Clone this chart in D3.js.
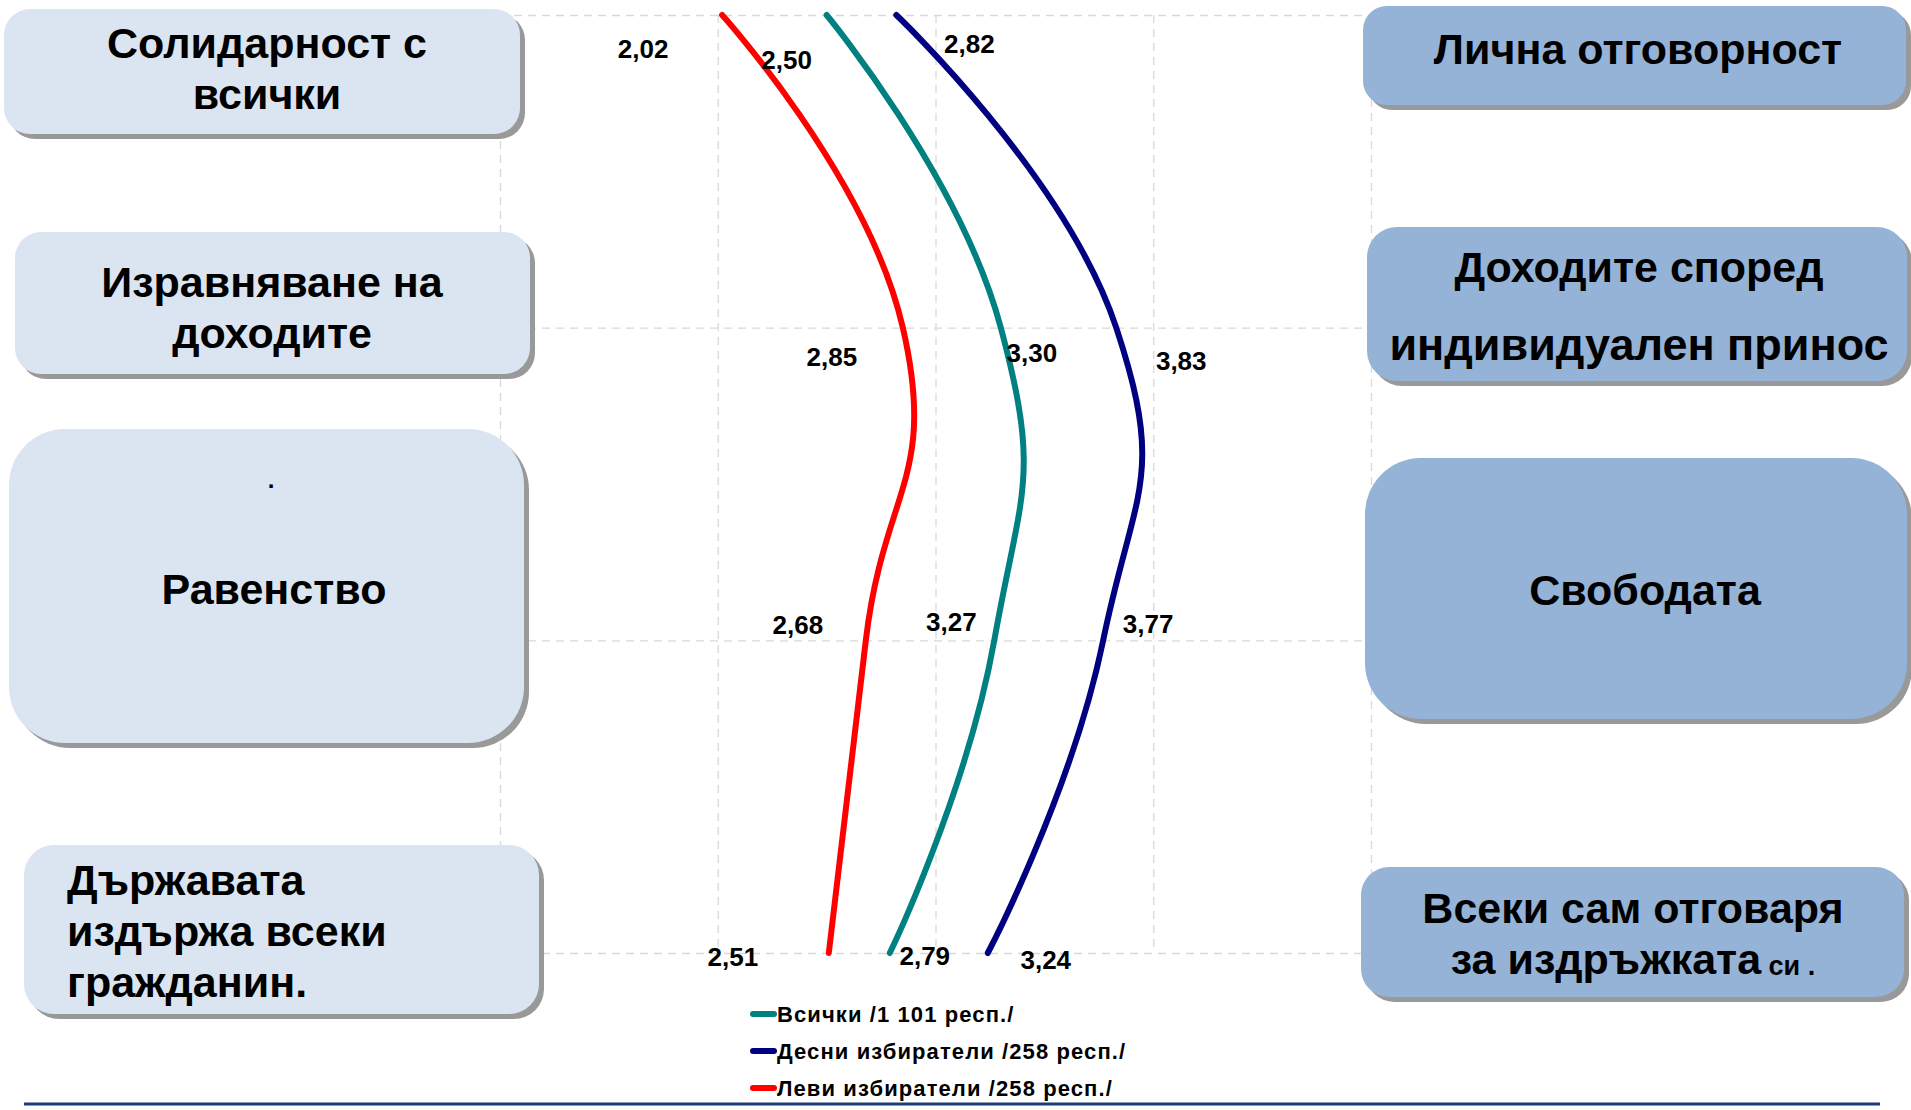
<!DOCTYPE html>
<html>
<head>
<meta charset="utf-8">
<script src="https://cdn.jsdelivr.net/npm/d3@7"></script>
<style>
  html, body { margin: 0; padding: 0; background: #ffffff; }
  svg { display: block; font-family: "Liberation Sans", Arial, sans-serif; }
</style>
</head>
<body>
<svg id="chart" width="1911" height="1110"></svg>
<script>
// ---------- data ----------
const categories = ["solidarity", "income", "equality", "state"];
const leftLabels = [
  ["Солидарност с", "всички"],
  ["Изравняване на", "доходите"],
  ["Равенство"],
  ["Държавата", "издържа всеки", "гражданин."]
];
const rightLabels = [
  ["Лична отговорност"],
  ["Доходите според", "индивидуален принос"],
  ["Свободата"],
  ["Всеки сам отговаря", "за издръжката"]
];
const seriesNames = ["Всички /1 101 респ./", "Десни избиратели /258 респ./", "Леви избиратели /258 респ./"];
const valuesAll   = [2.50, 3.30, 3.27, 2.79];
const valuesRight = [2.82, 3.83, 3.77, 3.24];
const valuesLeft  = [2.02, 2.85, 2.68, 2.51];
const xTicks = [1, 2, 3, 4, 5];

// ---------- layout / style ----------
const svg = d3.select("#chart");
const plot = { left: 500, right: 1371, top: 15, bottom: 953 };
const x = d3.scaleLinear().domain([1, 5]).range([plot.left, plot.right]);
const y = d3.scalePoint().domain(categories).range([plot.top, plot.bottom]);
const fmt = v => d3.format(".2f")(v).replace(".", ",");

const series = [
  { name: seriesNames[0], values: valuesAll,   color: "#008080",
    offsets: [[-40, 45], [31, 25], [-43, -18], [35, 3]] },
  { name: seriesNames[1], values: valuesRight, color: "#000080",
    offsets: [[73, 29], [65, 33], [45, -16], [58, 7]] },
  { name: seriesNames[2], values: valuesLeft,  color: "#ff0000",
    offsets: [[-79, 34], [-71, 29], [-68, -15], [-96, 4]] }
];

// gridlines
const gx = svg.append("g").attr("transform", `translate(0,${plot.top})`)
  .call(d3.axisTop(x).tickValues(xTicks).tickSize(-(plot.bottom - plot.top)).tickFormat(""));
const gy = svg.append("g").attr("transform", `translate(${plot.left},0)`)
  .call(d3.axisLeft(y).tickSize(-(plot.right - plot.left)).tickFormat(""));
[gx, gy].forEach(g => {
  g.select(".domain").remove();
  g.selectAll(".tick line").attr("stroke", "#d9d9d9").attr("stroke-width", 1.3).attr("stroke-dasharray", "8,6");
});

// lines
const line = d3.line()
  .x(d => x(d.v)).y(d => y(d.c))
  .curve(d3.curveCardinal.tension(-0.45));
series.slice().reverse().forEach(s => {
  const pts = s.values.map((v, i) => ({ v, c: categories[i] }));
  svg.append("path").datum(pts)
    .attr("d", line)
    .attr("fill", "none")
    .attr("stroke", s.color)
    .attr("stroke-width", 6)
    .attr("stroke-linecap", "round")
    .attr("stroke-linejoin", "round");
});

// data labels
series.forEach(s => {
  svg.append("g").selectAll("text").data(s.values).join("text")
    .attr("x", (v, i) => x(v) + s.offsets[i][0])
    .attr("y", (v, i) => y(categories[i]) + s.offsets[i][1])
    .attr("text-anchor", "middle")
    .attr("dominant-baseline", "central")
    .attr("font-size", 26)
    .attr("font-weight", "bold")
    .attr("fill", "#000")
    .text(v => fmt(v));
});

// boxes
const leftBoxes = [
  { x: 4,  y: 9,   w: 516, h: 125, r: 26, lines: leftLabels[0], cy: [43, 94], anchor: "middle", tx: 267 },
  { x: 15, y: 232, w: 515, h: 142, r: 26, lines: leftLabels[1], cy: [282, 333], anchor: "middle", tx: 272 },
  { x: 9,  y: 429, w: 515, h: 314, r: 56, lines: leftLabels[2], cy: [589], anchor: "middle", tx: 274 },
  { x: 24, y: 845, w: 515, h: 169, r: 30, lines: leftLabels[3], cy: [880, 931, 982], anchor: "start", tx: 67 }
];
const rightBoxes = [
  { x: 1363, y: 6,   w: 543, h: 99,  r: 24, lines: rightLabels[0], cy: [49], tx: 1638 },
  { x: 1367, y: 227, w: 540, h: 154, r: 30, lines: rightLabels[1], cy: [267, 344], tx: 1639, fs: [43, 45] },
  { x: 1365, y: 458, w: 542, h: 261, r: 56, lines: rightLabels[2], cy: [590], tx: 1645 },
  { x: 1361, y: 867, w: 543, h: 130, r: 28, lines: rightLabels[3], cy: [908, 959], tx: 1633 }
];

function drawBox(b, fill) {
  const g = svg.append("g");
  g.append("rect").attr("x", b.x + 5).attr("y", b.y + 5).attr("width", b.w).attr("height", b.h)
    .attr("rx", b.r).attr("fill", "#999999");
  g.append("rect").attr("x", b.x).attr("y", b.y).attr("width", b.w).attr("height", b.h)
    .attr("rx", b.r).attr("fill", fill);
  b.lines.forEach((t, i) => {
    g.append("text")
      .attr("x", b.tx).attr("y", b.cy[i])
      .attr("text-anchor", b.anchor || "middle")
      .attr("dominant-baseline", "central")
      .attr("font-size", b.fs ? b.fs[i] : 43).attr("font-weight", "bold").attr("fill", "#000")
      .text(t);
  });
  return g;
}
leftBoxes.forEach(b => drawBox(b, "#dbe5f1"));
const rg = rightBoxes.map(b => drawBox(b, "#95b3d7"));

// small dot in "Равенство" box
svg.append("text").attr("x", 271).attr("y", 479).attr("text-anchor", "middle")
  .attr("dominant-baseline", "central").attr("font-size", 24).attr("font-weight", "bold").text(".");
// small "си ." suffix (baseline-aligned with the main text)
const lastT = rg[3].selectAll("text").filter((d, i) => i === 1);
lastT.append("tspan").attr("font-size", 27).attr("dy", 7).text(" си .");

// legend
const lg = svg.append("g");
series.forEach((s, i) => {
  const ly = 1014 + i * 37;
  lg.append("line").attr("x1", 753).attr("x2", 774).attr("y1", ly).attr("y2", ly)
    .attr("stroke", s.color).attr("stroke-width", 6).attr("stroke-linecap", "round");
  lg.append("text").attr("x", 777).attr("y", ly).attr("dominant-baseline", "central")
    .attr("font-size", 22).attr("font-weight", "bold").attr("letter-spacing", 1.1).text(s.name);
});

// bottom rule
svg.append("line").attr("x1", 24).attr("x2", 1880).attr("y1", 1104).attr("y2", 1104)
  .attr("stroke", "#1f3a7a").attr("stroke-width", 3);
</script>
</body>
</html>
